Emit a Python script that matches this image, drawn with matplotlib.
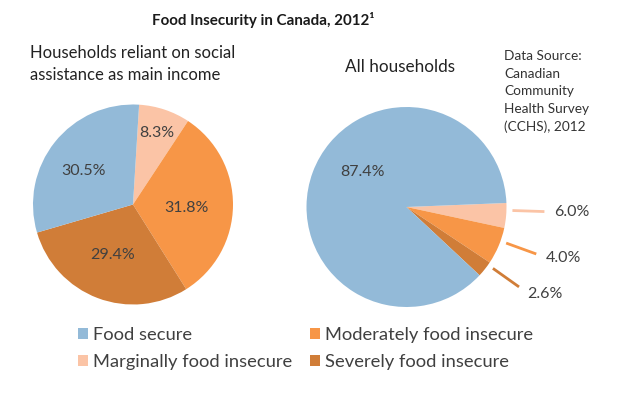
import matplotlib.pyplot as plt
import numpy as np

plt.rcParams['font.family'] = ['Lato', 'DejaVu Sans']

# categories in legend order
categories = ["Food secure", "Marginally food insecure",
              "Moderately food insecure", "Severely food insecure"]
colors = ["#93bad8", "#fbc4a6", "#f79647", "#d07d38"]

# households reliant on social assistance (%)
social_values = [30.5, 8.3, 31.8, 29.4]
social_labels = ["30.5%", "8.3%", "31.8%", "29.4%"]

# all households (%): slice sizes as drawn, labels as printed
all_values = [87.4, 4.0, 6.0, 2.6]
all_labels = ["87.4%", "6.0%", "4.0%", "2.6%"]

W, H = 620, 394
fig = plt.figure(figsize=(W / 100, H / 100), dpi=100)


def pie_axes(cx, cy, r):
    # axes placed in pixel coords (from top-left) around a pie of radius r
    return fig.add_axes([(cx - r) / W, (H - cy - r) / H, 2 * r / W, 2 * r / H])


order = [1, 2, 3, 0]  # clockwise from the top: marginal, moderate, severe, secure
txt_color = "#404040"

# ---- left pie
ax1 = pie_axes(133, 204.5, 100)
w1, _ = ax1.pie([social_values[i] for i in order], colors=[colors[i] for i in order],
                startangle=86.5, counterclock=False,
                wedgeprops=dict(linewidth=0))
ax1.set_xlim(-1, 1)
ax1.set_ylim(-1, 1)
# (distance, angle offset) for each label, in category order
left_pos = [(0.60, 5), (0.75, 0), (0.54, -3), (0.54, -1)]
wedge_of = {cat: w1[k] for k, cat in enumerate(order)}
for i, lab in enumerate(social_labels):
    w = wedge_of[i]
    d, off = left_pos[i]
    a = np.radians((w.theta1 + w.theta2) / 2 + off)
    ax1.text(d * np.cos(a), d * np.sin(a), lab, ha='center', va='center',
             fontsize=11.5, color=txt_color)

# ---- right pie
ax2 = pie_axes(406.5, 207, 100)
w2, _ = ax2.pie([all_values[i] for i in order], colors=[colors[i] for i in order],
                startangle=2.3, counterclock=False,
                wedgeprops=dict(linewidth=0))
ax2.set_xlim(-1, 1)
ax2.set_ylim(-1, 1)
wedge_of2 = {cat: w2[k] for k, cat in enumerate(order)}

w = wedge_of2[0]
a = np.radians((w.theta1 + w.theta2) / 2 - 18.5)
ax2.text(0.56 * np.cos(a), 0.56 * np.sin(a), all_labels[0], ha='center', va='center',
         fontsize=11.5, color=txt_color)

for i in [1, 2, 3]:
    w = wedge_of2[i]
    a = np.radians((w.theta1 + w.theta2) / 2 + 3)
    ax2.plot([1.06 * np.cos(a), 1.38 * np.cos(a)], [1.06 * np.sin(a), 1.38 * np.sin(a)],
             color=colors[i], lw=2, clip_on=False, solid_capstyle='butt')
    ax2.text(1.48 * np.cos(a), 1.50 * np.sin(a), all_labels[i], ha='left', va='center',
             fontsize=11.5, color=txt_color, clip_on=False)

# ---- texts
fig.text(263 / W, 1 - 20 / H, "Food Insecurity in Canada, 2012\u00b9", ha='center', va='center',
         fontsize=10.9, fontweight='bold', color="#1a1a1a")
fig.text(30 / W, 1 - 64 / H, "Households reliant on social\nassistance as main income",
         ha='left', va='center', fontsize=12, linespacing=1.5, color="#222222")
fig.text(400 / W, 1 - 67 / H, "All households", ha='center', va='center',
         fontsize=12.3, color="#222222")
fig.text(504 / W, 1 - 50 / H, "Data Source:\nCanadian\nCommunity\nHealth Survey\n(CCHS), 2012",
         ha='left', va='top', fontsize=9.8, linespacing=1.56, color="#333333")

# ---- legend
handles = [wedge_of[i] for i in range(4)]
fig.legend(handles, categories, ncol=2, loc='upper left',
           bbox_to_anchor=(78 / W, 1 - 327 / H), frameon=False, fontsize=13.2,
           handlelength=0.55, handleheight=0.55, handletextpad=0.25,
           columnspacing=1.0, labelspacing=0.62, borderpad=0, borderaxespad=0,
           labelcolor=txt_color)

fig.savefig("out.png", dpi=100)
